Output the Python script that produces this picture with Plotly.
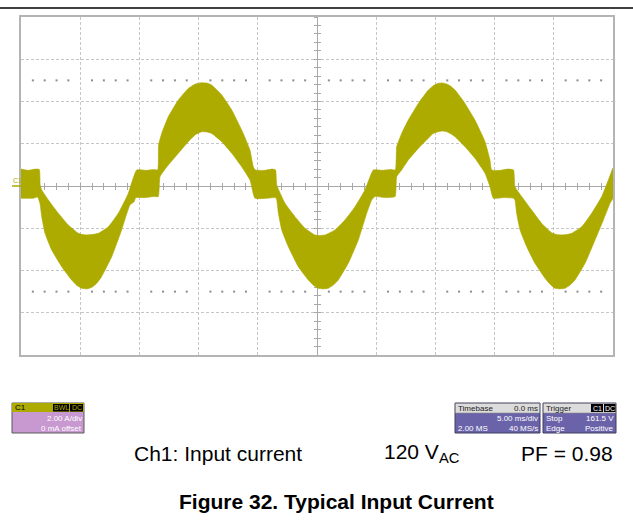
import numpy as np
import plotly.graph_objects as go

# screen geometry of the scope graticule (px in the 633x525 page)
W, H = 633, 525
L, R, T, B = 21, 613, 17, 355

OLIVE = "#ADAA00"
GRID = "#c6c6c6"
FONT = "Liberation Sans, Arial, sans-serif"

# Ch1 input current, envelope of the switching ripple band (ms, A)
upper_t = [0.0, 0.6, 1.2, 1.55, 1.62, 1.75, 2.31, 3.15, 4.0, 4.84, 5.2, 5.55, 6.0, 6.53, 7.38, 8.22,
           9.06, 9.77, 10.6, 11.2, 11.55, 11.62, 11.88, 12.44, 13.29, 14.13, 14.7, 15.26, 15.7, 16.1,
           16.95, 17.8, 18.64, 19.34, 19.62, 19.8, 20.6, 21.2, 21.5, 21.6, 22.3, 23.14, 23.99,
           24.83, 25.25, 25.68, 26.52, 27.36, 28.21, 29.05, 29.76, 30.5, 31.2, 31.62, 31.73,
           32.15, 32.71, 33.56, 34.4, 34.85, 35.24, 35.6, 35.95, 36.3, 36.66, 37.5, 38.34, 39.19,
           39.61, 39.75, 40.5, 41.1, 41.6, 41.72, 42.29, 43.13, 43.98, 44.82, 45.25, 45.67, 46.1,
           46.51, 47.36, 48.2, 49.05, 49.61, 50.0]
upper_i = [0.80, 0.74, 0.80, 0.78, 0.05, -0.19, -0.66, -1.29, -1.85, -2.24, -2.30, -2.32, -2.30,
           -2.24, -1.93, -1.29, -0.35, 0.76, 0.74, 0.78, 0.76, 1.94, 2.49, 3.28, 4.07, 4.62, 4.82,
           4.89, 4.87, 4.78, 4.31, 3.60, 2.65, 1.70, 0.91, 0.76, 0.74, 0.80, 0.76, 0.05, -0.82,
           -1.45, -2.00, -2.32, -2.34, -2.32, -2.08, -1.61, -0.98, -0.19, 0.76, 0.74, 0.78, 0.76,
           1.86, 2.49, 3.12, 3.91, 4.54, 4.76, 4.86, 4.88, 4.83, 4.72, 4.54, 3.91, 3.12, 2.10, 1.23,
           0.76, 0.74, 0.80, 0.76, -0.03, -0.50, -1.14, -1.77, -2.21, -2.30, -2.32, -2.30, -2.24,
           -1.93, -1.29, -0.50, 0.28, 0.85]
lower_t = [0.0, 1.04, 1.4, 1.6, 1.75, 2.03, 2.59, 3.44, 4.28, 4.7, 5.12, 5.55, 5.97, 6.4, 6.81,
           7.66, 8.5, 9.2, 9.55, 9.7, 10.5, 11.2, 11.6, 11.74, 12.44, 13.29, 14.13, 14.7, 15.26,
           15.7, 16.1, 16.95, 17.8, 18.64, 19.34, 19.76, 20.8, 21.5, 21.6, 21.74, 22.02, 22.58,
           23.42, 24.27, 24.7, 25.11, 25.5, 25.96, 26.4, 26.8, 27.64, 28.49, 29.2, 29.62, 29.9,
           30.8, 31.6, 31.73, 32.15, 32.71, 33.56, 34.4, 34.8, 35.24, 35.6, 35.95, 36.3, 36.66,
           37.5, 38.34, 39.19, 39.61, 39.89, 40.8, 41.6, 41.72, 41.86, 42.15, 42.71, 43.41, 44.26,
           44.7, 45.1, 45.5, 45.95, 46.4, 46.79, 47.64, 48.48, 49.19, 49.75, 50.0]
lower_i = [-0.58, -0.58, -0.52, -0.82, -1.45, -2.24, -3.03, -3.82, -4.45, -4.70, -4.84, -4.87,
           -4.80, -4.60, -4.29, -3.35, -2.08, -0.90, -0.75, -0.55, -0.55, -0.50, -0.50, 0.44, 0.99,
           1.55, 2.10, 2.42, 2.57, 2.56, 2.49, 2.10, 1.55, 0.91, 0.28, -0.58, -0.58, -0.55, -0.66,
           -1.29, -2.08, -2.87, -3.82, -4.45, -4.70, -4.84, -4.87, -4.84, -4.68, -4.45, -3.66,
           -2.56, -1.29, -0.66, -0.50, -0.55, -0.50, 0.44, 0.76, 1.23, 1.78, 2.26, 2.48, 2.57, 2.60,
           2.57, 2.47, 2.33, 1.86, 1.31, 0.60, -0.03, -0.58, -0.55, -0.58, -0.66, -1.29, -2.08,
           -2.87, -3.66, -4.37, -4.66, -4.84, -4.87, -4.84, -4.68, -4.45, -3.66, -2.56, -1.61,
           -0.82, -0.58]

# scope settings
time_range = [0, 50]      # 5 ms/div x 10 div
amp_range = [-8, 8]       # 2 A/div x 8 div
marker_level = 5          # dotted level lines at +/-2.5 div

c1_rows = ["2.00 A/div", "0 mA offset"]
timebase_rows = [("Timebase", "0.0 ms"), ("", "5.00 ms/div"), ("2.00 MS", "40 MS/s")]
trigger_rows = [("Trigger", ""), ("Stop", "161.5 V"), ("Edge", "Positive")]


def px(x):
    return (x - L) / (R - L)


def py(y):
    return (B - y) / (B - T)


fig = go.Figure()

# ripple band
fig.add_trace(
    go.Scatter(
        x=upper_t + lower_t[::-1],
        y=upper_i + lower_i[::-1],
        fill="toself",
        fillcolor=OLIVE,
        line=dict(color=OLIVE, width=0.6, shape="spline", smoothing=0.4),
        mode="lines",
        hoverinfo="skip",
        showlegend=False,
    )
)

# dotted level markers
dot_t = [t for t in np.arange(1, 50, 1.0) if t % 5 != 0]
for lvl in (marker_level, -marker_level):
    fig.add_trace(
        go.Scatter(
            x=dot_t,
            y=[lvl] * len(dot_t),
            mode="markers",
            marker=dict(symbol="square", size=2, color="#8c8c8c"),
            hoverinfo="skip",
            showlegend=False,
        )
    )

# dummy traces so the centre tick axes get drawn
for n in (2, 3):
    fig.add_trace(go.Scatter(x=[None], y=[None], xaxis=f"x{n}", yaxis=f"y{n}", showlegend=False))

base_ax = dict(showticklabels=False, zeroline=False, fixedrange=True)
fig.update_layout(
    width=W,
    height=H,
    margin=dict(l=L, r=W - R, t=T, b=H - B),
    paper_bgcolor="white",
    plot_bgcolor="white",
    showlegend=False,
    xaxis=dict(range=time_range, dtick=5, tick0=0, showgrid=True, gridcolor=GRID, griddash="3px,2px",
               showline=True, mirror=True, linecolor="#b4b4b4", linewidth=2, ticks="", **base_ax),
    yaxis=dict(range=amp_range, dtick=2, tick0=0, showgrid=True, gridcolor=GRID, griddash="3px,2px",
               showline=True, mirror=True, linecolor="#b4b4b4", linewidth=2, ticks="", **base_ax),
    xaxis2=dict(overlaying="x", anchor="free", position=0.5, range=time_range, dtick=1, tick0=0,
                showgrid=False, showline=True, linecolor="#a8a8a8", linewidth=1, ticks="outside",
                ticklen=3, tickcolor="#a8a8a8", layer="below traces", **base_ax),
    xaxis3=dict(overlaying="x", anchor="free", position=0.5, range=time_range, dtick=1, tick0=0,
                showgrid=False, showline=False, ticks="inside", ticklen=3, tickcolor="#a8a8a8",
                layer="below traces", **base_ax),
    yaxis2=dict(overlaying="y", anchor="free", position=0.5, range=amp_range, dtick=0.4, tick0=0,
                showgrid=False, showline=True, linecolor="#a8a8a8", linewidth=1, ticks="outside",
                ticklen=3, tickcolor="#a8a8a8", layer="below traces", **base_ax),
    yaxis3=dict(overlaying="y", anchor="free", position=0.5, range=amp_range, dtick=0.4, tick0=0,
                showgrid=False, showline=False, ticks="inside", ticklen=3, tickcolor="#a8a8a8",
                layer="below traces", **base_ax),
)

shapes = []
annotations = []


def rect(x0, y0, x1, y1, fill, line="rgba(0,0,0,0)", width=0):
    shapes.append(dict(type="rect", xref="paper", yref="paper", x0=px(x0), x1=px(x1),
                       y0=py(y1), y1=py(y0), fillcolor=fill, line=dict(color=line, width=width),
                       layer="above"))


def text(x, y, s, size=8, color="white", anchor="left", bold=False, family=FONT):
    annotations.append(dict(xref="paper", yref="paper", x=px(x), y=py(y), text=f"<b>{s}</b>" if bold else s,
                            showarrow=False, xanchor=anchor, yanchor="middle",
                            font=dict(size=size, color=color, family=family)))


# top rule of the page
shapes.append(dict(type="line", xref="paper", yref="paper", x0=px(0), x1=px(W), y0=py(8), y1=py(8),
                   line=dict(color="black", width=1.6)))

# channel marker on the left edge
shapes.append(dict(type="line", xref="paper", yref="paper", x0=px(12), x1=px(L), y0=py(186), y1=py(186),
                   line=dict(color=OLIVE, width=1.5)))
text(11, 180.5, "C1", size=7, color=OLIVE)

# C1 descriptor box
rect(12, 403, 84, 433, "#C898D0", line="#5a5a5a", width=1)
rect(12, 403, 84, 412, OLIVE)
text(13, 407.5, "C1", size=8, color="black")
rect(53, 404, 69, 411.5, "black")
rect(70, 404, 83, 411.5, "black")
text(61, 407.7, "BWL", size=7, color=OLIVE, anchor="center")
text(76.5, 407.7, "DC", size=7, color=OLIVE, anchor="center")
text(83.5, 418, c1_rows[0], anchor="right")
text(83.5, 428.5, c1_rows[1], anchor="right")

# timebase and trigger boxes
for x0, x1, rows in ((455, 540, timebase_rows), (543, 616, trigger_rows)):
    rect(x0, 403, x1, 433, "#6B63A9", line="#3f3f5f", width=1)
    rect(x0 + 0.5, 403.5, x1 - 0.5, 413, "#dcdcdc", line="#8a8a8a", width=0.6)
    for k, (left, right) in enumerate(rows):
        y = (408, 418.5, 428.5)[k]
        col = "#222222" if k == 0 else "white"
        if left:
            text(x0 + 1, y, left, color=col)
        if right:
            text(x1 - 0.5, y, right, color=col, anchor="right")

rect(591, 404, 603, 412, "black")
rect(604, 404, 615.5, 412, "black")
text(597, 408, "C1", size=7, color="white", anchor="center")
text(609.7, 408, "DC", size=7, color="white", anchor="center")

# caption lines
text(132, 453, "Ch1: Input current", size=21, color="black")
text(382, 453, "120 V<sub>AC</sub>", size=21, color="black")
text(615, 453, "PF = 0.98", size=21, color="black", anchor="right")
text(336, 502, "Figure 32. Typical Input Current", size=21, color="black", anchor="center", bold=True)

fig.update_layout(shapes=shapes, annotations=annotations)

fig.write_html("out.html", config={"displayModeBar": False},
               post_script="document.body.style.margin='0';")
